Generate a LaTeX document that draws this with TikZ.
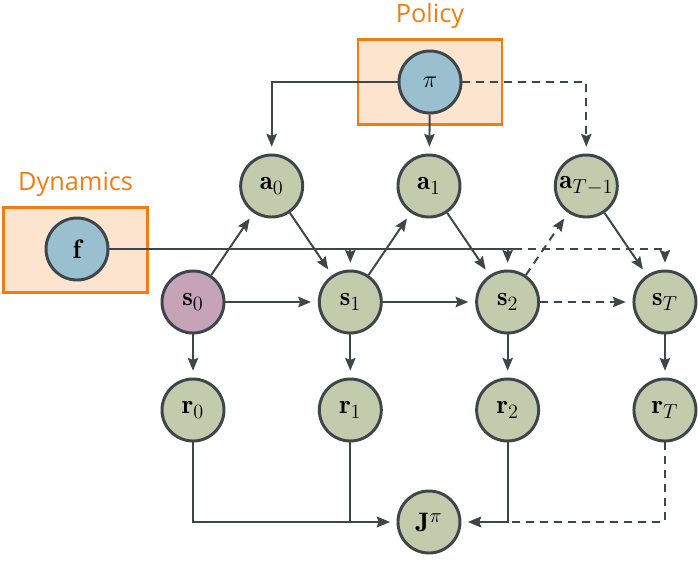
\documentclass[tikz,border=0pt]{standalone}
\usepackage{amsmath,amssymb}
\usepackage{fontspec}
\newfontfamily\boxlabelfont{Open Sans}
\usepackage{tikz}
\usetikzlibrary{positioning, arrows.meta, calc}

\definecolor{varfill}{HTML}{C3CBAD}
\definecolor{parfill}{HTML}{9ABFCE}
\definecolor{startfill}{HTML}{C6A3B7}
\definecolor{linegray}{HTML}{3C464B}
\definecolor{boxfill}{HTML}{FCE4CE}
\definecolor{boxorange}{HTML}{EF7D0F}

\begin{document}
\begin{tikzpicture}[
    font=\fontsize{19}{22}\selectfont,
    rv/.style={draw=linegray, line width=2.1pt, circle, minimum size=1.55cm, inner sep=0pt, fill=varfill},
    param/.style={rv, fill=parfill},
    modbox/.style={draw=boxorange, line width=2pt, fill=boxfill, minimum width=3.6cm, minimum height=2.125cm},
    modlabel/.style={font=\boxlabelfont\fontsize{18}{21}\selectfont, text=boxorange},
    wire/.style={draw=linegray, line width=1.4pt},
    link/.style={wire, -{Stealth[length=0.32cm, width=0.26cm, inset=0.05cm]}, shorten >=0.17cm},
    latelink/.style={link, dash pattern=on 0.2cm off 0.15cm}
]
    \useasboundingbox (0,0) rectangle (17.45,-14.1);

    % 1. Model boxes with their titles
    \node[modbox] (polbox) at (10.75,-2.05) {};
    \node[modlabel, above=0.12cm of polbox] (pollabel) {Policy};
    \node[modbox] (dynbox) at (1.89,-6.24) {};
    \node[modlabel, above=0.1cm of dynbox] (dynlabel) {Dynamics};

    % 2. Parameter nodes, centred in their boxes
    \node[param] (pi) at (polbox) {$\pi$};
    \node[param] (f) at (1.925,-6.225) {$\mathbf{f}$};

    % 3. Grid of the unrolled rollout
    % columns of the states, actions sit half way between
    \def\dx{3.933}
    \def\xz{4.825}
    \def\ya{-4.65}
    \def\ys{-7.55}
    \def\yr{-10.25}

    % Actions
    \node[rv] (a0) at (\xz+0.5*\dx, \ya) {$\mathbf{a}_0$};
    \node[rv] (a1) at (\xz+1.5*\dx, \ya) {$\mathbf{a}_1$};
    \node[rv] (aT) at (\xz+2.5*\dx, \ya) {$\mathbf{a}_{T-1}$};

    % States
    \node[rv, fill=startfill] (s0) at (\xz, \ys) {$\mathbf{s}_0$};
    \node[rv] (s1) at (\xz+\dx, \ys) {$\mathbf{s}_1$};
    \node[rv] (s2) at (\xz+2*\dx, \ys) {$\mathbf{s}_2$};
    \node[rv] (sT) at (\xz+3*\dx, \ys) {$\mathbf{s}_T$};

    % Rewards
    \node[rv] (r0) at (\xz, \yr) {$\mathbf{r}_0$};
    \node[rv] (r1) at (\xz+\dx, \yr) {$\mathbf{r}_1$};
    \node[rv] (r2) at (\xz+2*\dx, \yr) {$\mathbf{r}_2$};
    \node[rv] (rT) at (\xz+3*\dx, \yr) {$\mathbf{r}_T$};

    % Return
    \node[rv] (J) at (\xz+1.5*\dx, -13.05) {$\mathbf{J}^{\pi}$};

    % 4. Policy feeds the actions
    \draw[link] (pi) -| (a0);
    \draw[link] (pi) -- (a1);
    \draw[latelink] (pi) -| (aT);

    % 5. Dynamics feeds the next states
    \coordinate (fsplit) at ($(s2 |- f)+(0.15,0)$);
    \draw[wire] (f) -- (fsplit);
    \draw[latelink] (fsplit) -| (sT);
    \draw[link] (s1 |- f) -- (s1);
    \draw[link] (s2 |- f) -- (s2);

    % 6. Transitions
    \draw[link] (s0) -- (a0);
    \draw[link] (a0) -- (s1);
    \draw[link] (s0) -- (s1);
    \draw[link] (s1) -- (a1);
    \draw[link] (a1) -- (s2);
    \draw[link] (s1) -- (s2);
    \draw[latelink] (s2) -- (aT);
    \draw[link] (aT) -- (sT);
    \draw[latelink] (s2) -- (sT);

    % 7. Rewards and the return
    \draw[link] (s0) -- (r0);
    \draw[link] (s1) -- (r1);
    \draw[link] (s2) -- (r2);
    \draw[link] (sT) -- (rT);
    \draw[link] (r0) |- (J);
    \draw[link] (r1) |- (J);
    \draw[link] (r2) |- (J);
    \draw[latelink] (rT) |- (J);

\end{tikzpicture}
\end{document}
